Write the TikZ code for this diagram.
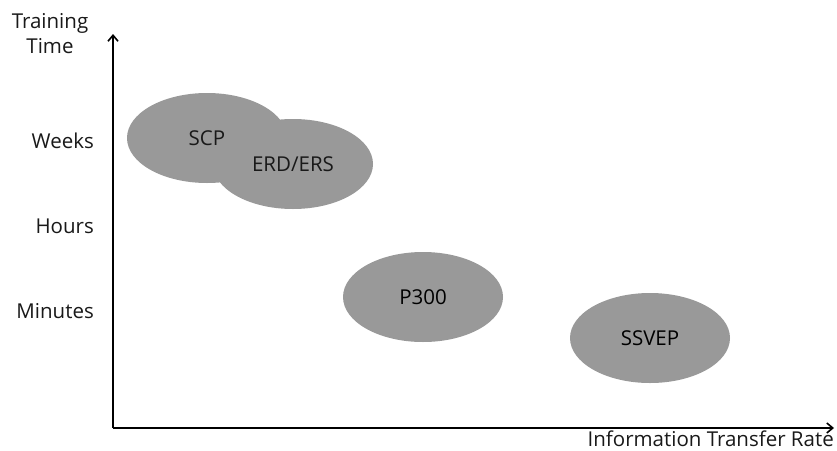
\documentclass[tikz,border=0pt]{standalone}
\usepackage{fontspec}
\setmainfont{Open Sans}
\usetikzlibrary{arrows.meta,shapes.geometric}
\begin{document}
\begin{tikzpicture}[x=1pt,y=-1pt,
  blob/.style={ellipse,fill=black!40,minimum width=160pt,minimum height=90pt,inner sep=0pt,font=\fontsize{20.5}{25}\selectfont},
  lab/.style={font=\fontsize{20.5}{25}\selectfont,inner sep=0pt,text=black!90},
  axis/.style={line width=1.6pt,-{Straight Barb[length=6pt,width=10pt,line width=1.6pt]}}]
\useasboundingbox (0,0) rectangle (837,450);
\coordinate (o) at (113,428);
\coordinate (ytip) at (113,34);
\coordinate (xtip) at (834,428);
\draw[axis] (o) -- (ytip);
\draw[axis] (o) -- (xtip);
\node[lab,align=center] (ylab) at (50,34) {Training\\Time};
\node[lab,anchor=east] (weeks) at (94,141) {Weeks};
\node[lab,anchor=east] (hours) at (94,226) {Hours};
\node[lab,anchor=east] (minutes) at (94,311) {Minutes};
\node[lab,anchor=south east] (xlab) at (834,447) {Information Transfer Rate};
\node[blob] (scp) at (207,138) {};
\node[blob] (erd) at (293,164) {};
\node[lab] at (scp) {SCP};
\node[lab] at (erd) {ERD/ERS};
\node[blob] (p300) at (423,297) {P300};
\node[blob] (ssvep) at (650,338) {SSVEP};
\end{tikzpicture}
\end{document}
